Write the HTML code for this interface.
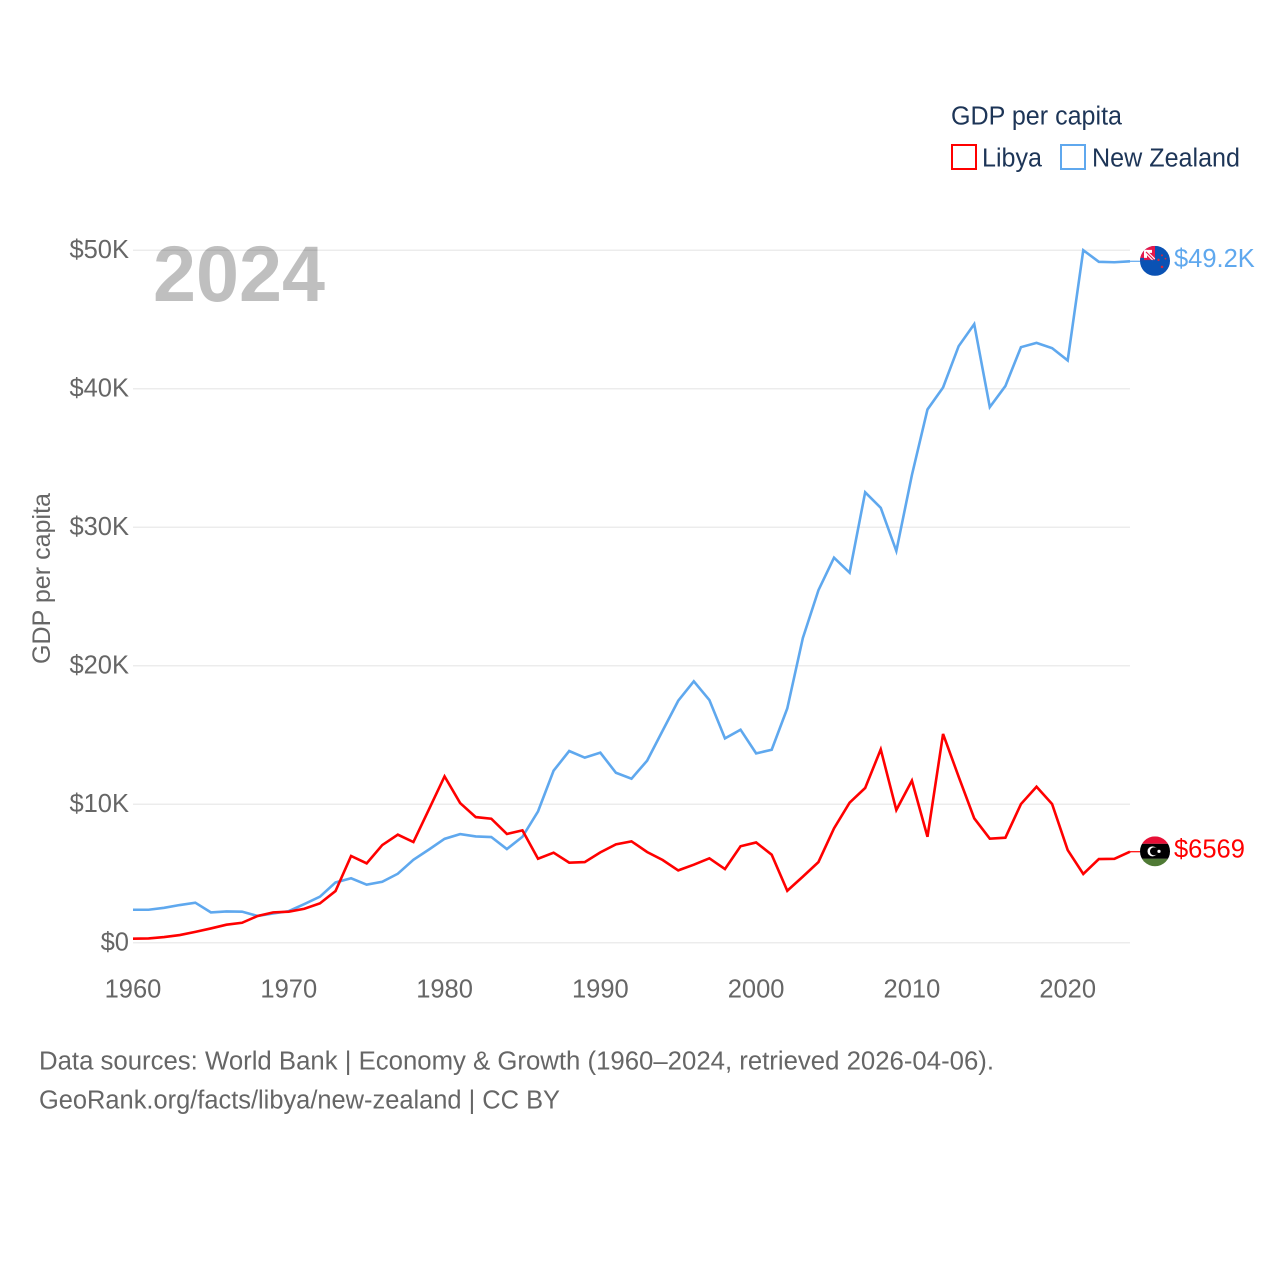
<!DOCTYPE html>
<html lang="en">
<head>
<meta charset="utf-8">
<title>GDP per capita: Libya and New Zealand</title>
<style>
html,body{margin:0;padding:0;background:#fff;}
svg{display:block;font-family:"Liberation Sans",sans-serif;}
</style>
</head>
<body>
<svg id="chart" xmlns="http://www.w3.org/2000/svg" width="1280" height="1280" viewBox="0 0 1280 1280">
  <rect width="1280" height="1280" fill="#ffffff"/>
  <defs>
    <clipPath id="nz-clip"><circle cx="0" cy="0" r="15"/></clipPath>
    <clipPath id="ly-clip"><circle cx="0" cy="0" r="15"/></clipPath>
  </defs>
  <g id="grid"></g>
  <g id="y-ticks"></g>
  <g id="x-ticks"></g>
  <text x="153" y="301" font-size="79" font-weight="700" fill="#000" fill-opacity="0.25" textLength="172" lengthAdjust="spacingAndGlyphs">2024</text>
  <text transform="translate(50,664) rotate(-90)" font-size="25" fill="#666" textLength="171" lengthAdjust="spacingAndGlyphs">GDP per capita</text>
  <g id="series"></g>

  <g id="flag-nz">
    <g clip-path="url(#nz-clip)">
      <rect x="-15" y="-15" width="30" height="30" fill="#0a52b4"/>
      <rect x="-15" y="-15" width="15" height="15" fill="#e8174a"/>
      <path d="M-11,-3 V-11 H-3 V-8 H-8 V-3 Z" fill="#fff"/>
      <path d="M-10,-10 L-1,-1" stroke="#fff" stroke-width="3.4" fill="none"/>
      <path d="M-9,-9 L-1,-1" stroke="#e8174a" stroke-width="1.1" fill="none"/>
      <path d="M-15,0 H0 V-1 H-4 L-11,-1 V-3 H-15 Z" fill="#0a52b4"/>
      <circle cx="7" cy="-5.5" r="1" fill="#d7263d"/>
      <circle cx="3.5" cy="-1" r="1.2" fill="#d7263d"/>
      <circle cx="10.5" cy="-2.2" r="0.9" fill="#d7263d"/>
      <circle cx="7" cy="6" r="1.3" fill="#d7263d"/>
    </g>
  </g>
  <g id="flag-ly">
    <g clip-path="url(#ly-clip)">
      <rect x="-15" y="-15" width="30" height="7.5" fill="#e70f36"/>
      <rect x="-15" y="-7.5" width="30" height="15" fill="#000"/>
      <rect x="-15" y="7.5" width="30" height="7.5" fill="#4f7a35"/>
      <circle cx="-2.5" cy="0" r="5" fill="#fff"/>
      <circle cx="-1" cy="0" r="4" fill="#000"/>
      <circle cx="4" cy="0" r="1.6" fill="#fff"/>
    </g>
  </g>
  <g id="end-labels"></g>

  <g>
    <text x="951" y="124.5" font-size="25.5" fill="#1d3557" textLength="171" lengthAdjust="spacingAndGlyphs">GDP per capita</text>
    <rect x="952" y="145" width="24" height="24" fill="#fff" stroke="#ff0000" stroke-width="2"/>
    <text x="982" y="166.7" font-size="25.5" fill="#1d3557" textLength="60" lengthAdjust="spacingAndGlyphs">Libya</text>
    <rect x="1061" y="145" width="24" height="24" fill="#fff" stroke="#5fa8ee" stroke-width="2"/>
    <text x="1092" y="166.7" font-size="25.5" fill="#1d3557" textLength="148" lengthAdjust="spacingAndGlyphs">New Zealand</text>
  </g>

  <g>
    <text x="39" y="1069.5" font-size="25.5" fill="#666" textLength="955" lengthAdjust="spacingAndGlyphs">Data sources: World Bank | Economy &amp; Growth (1960–2024, retrieved 2026-04-06).</text>
    <text x="39" y="1108.5" font-size="25.5" fill="#666" textLength="521" lengthAdjust="spacingAndGlyphs">GeoRank.org/facts/libya/new-zealand | CC BY</text>
  </g>
</svg>
<script>
const startYear = 1960;
const libyaValues = [290,310,410,550,780,1030,1300,1440,1930,2190,2240,2450,2840,3730,6260,5730,7050,7800,7270,9630,12010,10080,9070,8950,7850,8110,6060,6500,5780,5820,6520,7100,7320,6550,5970,5220,5630,6090,5320,6960,7240,6350,3750,4770,5820,8260,10110,11170,13960,9580,11700,7650,15070,11990,8980,7510,7580,10010,11260,10010,6690,4960,6040,6060,6569];
const newZealandValues = [2380,2380,2520,2720,2890,2190,2260,2240,1930,2110,2280,2790,3320,4350,4650,4190,4400,4980,5990,6730,7500,7840,7670,7630,6760,7650,9480,12420,13840,13360,13720,12270,11840,13140,15310,17470,18870,17520,14750,15380,13670,13930,16920,22000,25450,27800,26720,32520,31400,28280,33770,38500,40090,43070,44660,38670,40190,43000,43310,42930,42040,50000,49160,49130,49200];
const yTickValues = [0,10000,20000,30000,40000,50000];
const yTickLabels = ["$0","$10K","$20K","$30K","$40K","$50K"];
const xTickYears = [1960,1970,1980,1990,2000,2010,2020];
const libyaEndLabel = "$6569";
const newZealandEndLabel = "$49.2K";

const NS = "http://www.w3.org/2000/svg";
const plotLeft = 133, plotRight = 1130, plotBase = 942.7, plotTop = 250.2, yMax = 50000;
const lastYear = startYear + libyaValues.length - 1;
function xScale(year){ return plotLeft + (year - startYear) * (plotRight - plotLeft) / (2024 - startYear); }
function yScale(v){ return plotBase - v * (plotBase - plotTop) / yMax; }
function make(tag, parent, attrs){
  const el = document.createElementNS(NS, tag);
  for (const k in attrs) el.setAttribute(k, attrs[k]);
  parent.appendChild(el);
  return el;
}

const gridG = document.getElementById("grid");
const yG = document.getElementById("y-ticks");
yTickValues.forEach(function(v, i){
  const line = make("line", gridG, {x1: plotLeft, x2: plotRight, y1: yScale(v), y2: yScale(v), stroke: "#ececec", "stroke-width": 1.5});
  
  
  const label = make("text", yG, {x: 129, y: yScale(v) + 7.8, "text-anchor": "end", "font-size": 25.5, fill: "#666"});
  
  
  label.textContent = yTickLabels[i];
});

const xG = document.getElementById("x-ticks");
xTickYears.forEach(function(year){
  const label = make("text", xG, {x: xScale(year), y: 997.7, "text-anchor": "middle", "font-size": 25.5, fill: "#666"});
  
  
  label.textContent = String(year);
});

function toPoints(values){
  return values.map(function(v, i){ return xScale(startYear + i).toFixed(2) + "," + yScale(v).toFixed(2); }).join(" ");
}
const seriesG = document.getElementById("series");
const nzLine = make("polyline", seriesG, {points: toPoints(newZealandValues), fill: "none", stroke: "#5fa8ee", "stroke-width": 2.6, "stroke-linejoin": "miter"});


const lyLine = make("polyline", seriesG, {points: toPoints(libyaValues), fill: "none", stroke: "#ff0000", "stroke-width": 2.6, "stroke-linejoin": "miter"});



const flagX = 1155;
function endMarker(values, flagId, color, text, nameLine, nameLabel){
  const last = values[values.length - 1];
  const y = yScale(last);
  document.getElementById(flagId).setAttribute("transform", "translate(" + flagX + "," + (y - 0.4) + ")");
  const tail = make("line", seriesG, {x1: xScale(lastYear), x2: flagX - 15, y1: y, y2: y, stroke: color, "stroke-width": 1.2});
  
  
  const label = make("text", document.getElementById("end-labels"), {x: 1174, y: y + 5.8, "font-size": 25.5, fill: color});
  
  
  label.textContent = text;
}
endMarker(newZealandValues, "flag-nz", "#5fa8ee", newZealandEndLabel, "new-zealand-connector", "new-zealand-end-label");
endMarker(libyaValues, "flag-ly", "#ff0000", libyaEndLabel, "libya-connector", "libya-end-label");
</script>
</body>
</html>
